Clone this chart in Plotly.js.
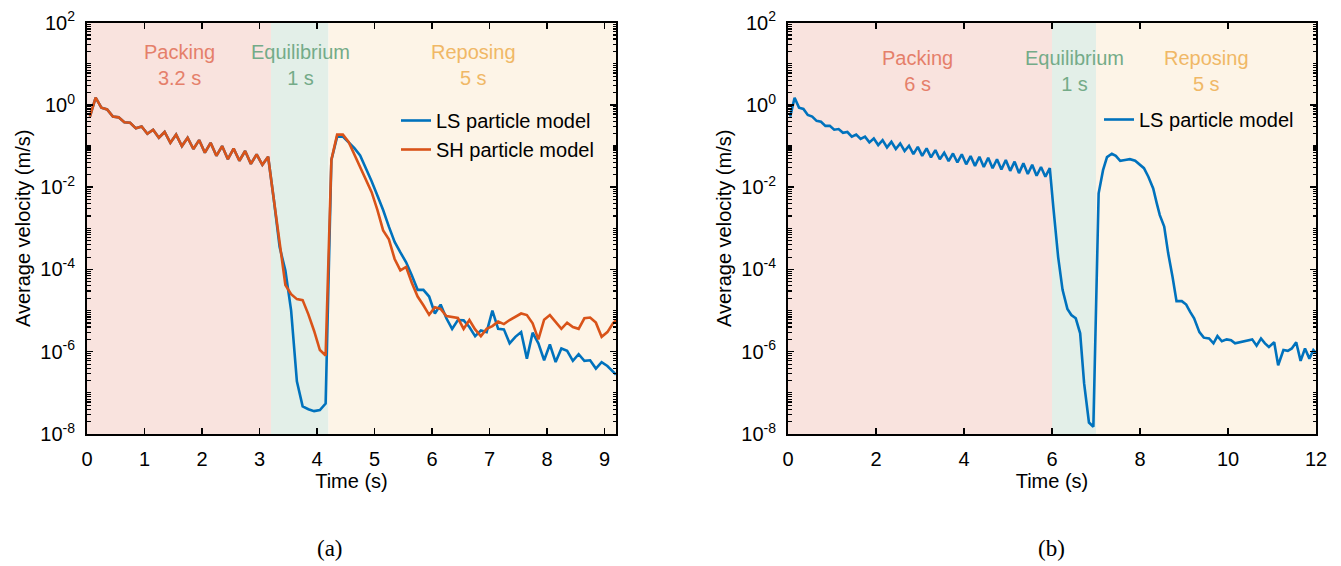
<!DOCTYPE html>
<html>
<head>
<meta charset="utf-8">
<script src="https://cdn.plot.ly/plotly-3.0.1.min.js"></script>
<style>
  html, body { margin: 0; padding: 0; background: #ffffff; }
  #chart { width: 1341px; height: 566px; }
</style>
</head>
<body>
<div id="chart"></div>
<script>
// ---------------- Data: panel (a) ----------------
const timeA = [0.05,0.15,0.25,0.35,0.45,0.55,0.65,0.75,0.85,0.95,1.05,1.15,1.25,1.35,1.45,1.55,1.65,1.75,1.85,1.95,
  2.05,2.15,2.25,2.35,2.45,2.55,2.65,2.75,2.85,2.95,3.05,3.15,3.25,3.35,3.45,3.55,3.65,3.75,3.85,3.95,
  4.05,4.15,4.25,4.35,4.45,4.55,4.65,4.75,4.85,4.95,5.05,5.15,5.25,5.35,5.45,5.55,5.65,5.75,5.85,5.95,
  6.05,6.15,6.25,6.35,6.45,6.55,6.65,6.75,6.85,6.95,7.05,7.15,7.25,7.35,7.45,7.55,7.65,7.75,7.85,7.95,
  8.05,8.15,8.25,8.35,8.45,8.55,8.65,8.75,8.85,8.95,9.05,9.15,9.2];

const lsVelocityA = [0.52,1.5,0.86,0.78,0.52,0.50,0.38,0.37,0.27,0.30,0.20,0.25,0.16,0.22,0.12,0.19,0.10,0.16,0.085,0.14,
  0.069,0.12,0.058,0.10,0.048,0.087,0.044,0.076,0.037,0.063,0.035,0.055,4.9e-3,3.5e-4,9.5e-5,1.0e-5,1.9e-7,4.7e-8,4.0e-8,3.6e-8,
  3.8e-8,5.5e-8,0.046,0.17,0.17,0.126,0.089,0.059,0.030,0.014,6.3e-3,2.8e-3,1.1e-3,4.7e-4,2.6e-4,1.5e-4,7.1e-5,3.2e-5,3.2e-5,2.2e-5,
  8.5e-6,1.4e-5,6.5e-6,3.6e-6,5.9e-6,5.8e-6,4.0e-6,2.4e-6,3.3e-6,3.0e-6,1.0e-5,3.6e-6,3.5e-6,1.6e-6,2.3e-6,3.0e-6,6.8e-7,2.9e-6,1.6e-6,6.2e-7,
  1.5e-6,5.6e-7,1.2e-6,1.05e-6,6.0e-7,8.7e-7,6.0e-7,6.2e-7,3.9e-7,5.6e-7,4.5e-7,3.2e-7,2.8e-7];

const shVelocityA = [0.52,1.5,0.86,0.78,0.52,0.50,0.38,0.37,0.27,0.30,0.20,0.25,0.16,0.22,0.12,0.19,0.10,0.16,0.085,0.14,
  0.069,0.12,0.058,0.10,0.048,0.087,0.044,0.076,0.037,0.063,0.035,0.055,4.9e-3,4.3e-4,4.2e-5,2.5e-5,1.9e-5,1.8e-5,8.1e-6,3.2e-6,
  1.1e-6,8.1e-7,0.046,0.19,0.19,0.126,0.063,0.030,0.015,7.6e-3,2.8e-3,8.9e-4,5.4e-4,1.8e-4,9.5e-5,1.15e-4,4.7e-5,2.2e-5,1.35e-5,7.9e-6,
  1.2e-5,1.1e-5,7.4e-6,6.9e-6,6.6e-6,3.6e-6,5.9e-6,3.5e-6,2.4e-6,3.6e-6,4.2e-6,5.4e-6,4.7e-6,5.9e-6,7.2e-6,8.5e-6,7.8e-6,4.9e-6,2.0e-6,6.0e-6,
  7.8e-6,5.4e-6,3.6e-6,5.1e-6,4.0e-6,3.6e-6,6.5e-6,6.8e-6,5.1e-6,2.3e-6,3.0e-6,5.0e-6,5.9e-6];

// ---------------- Data: panel (b) ----------------
const timeB = [0.05,0.15,0.25,0.35,0.45,0.55,0.65,0.75,0.85,0.95,1.05,1.15,1.25,1.35,1.45,1.55,1.65,1.75,1.85,1.95,
  2.05,2.15,2.25,2.35,2.45,2.55,2.65,2.75,2.85,2.95,3.05,3.15,3.25,3.35,3.45,3.55,3.65,3.75,3.85,3.95,
  4.05,4.15,4.25,4.35,4.45,4.55,4.65,4.75,4.85,4.95,5.05,5.15,5.25,5.35,5.45,5.55,5.65,5.75,5.85,5.95,
  6.03,6.14,6.24,6.35,6.44,6.54,6.64,6.73,6.84,6.94,7.06,7.16,7.25,7.36,7.45,7.55,7.66,7.77,7.89,8.0,
  8.09,8.19,8.30,8.38,8.45,8.55,8.64,8.74,8.83,8.95,9.05,9.14,9.23,9.35,9.45,9.57,9.67,9.76,9.86,9.97,
  10.07,10.16,10.27,10.43,10.55,10.65,10.75,10.84,10.93,11.05,11.14,11.26,11.36,11.45,11.55,11.65,11.75,11.85,11.94,12.0];

const lsVelocityB = [0.52,1.5,0.86,0.80,0.57,0.52,0.41,0.39,0.31,0.31,0.25,0.26,0.21,0.22,0.17,0.19,0.15,0.17,0.123,0.153,
  0.106,0.14,0.093,0.127,0.085,0.116,0.076,0.102,0.064,0.096,0.058,0.088,0.053,0.080,0.048,0.069,0.043,0.066,0.040,0.063,
  0.036,0.057,0.033,0.055,0.031,0.052,0.029,0.048,0.027,0.046,0.025,0.042,0.022,0.038,0.021,0.035,0.019,0.031,0.018,0.029,
  3.3e-3,2.0e-4,3.2e-5,1.1e-5,7.8e-6,6.5e-6,2.8e-6,1.7e-7,1.9e-8,1.5e-8,7.1e-3,0.026,0.054,0.065,0.058,0.044,0.046,0.048,0.044,0.035,
  0.029,0.018,9.3e-3,4.1e-3,2.1e-3,1.1e-3,2.5e-4,6.6e-5,1.7e-5,1.7e-5,1.4e-5,9.3e-6,6.5e-6,3.0e-6,2.2e-6,2.1e-6,1.6e-6,2.4e-6,1.8e-6,2.0e-6,
  1.9e-6,1.6e-6,1.7e-6,1.8e-6,2.0e-6,1.4e-6,2.1e-6,1.6e-6,1.3e-6,1.7e-6,4.7e-7,1.1e-6,1.05e-6,1.2e-6,1.7e-6,6.0e-7,1.2e-6,6.8e-7,1.1e-6,9.3e-7];

// ---------------- Phases ----------------
const phaseNames = ['Packing', 'Equilibrium', 'Reposing'];
const phaseDurA = ['3.2 s', '1 s', '5 s'];
const phaseDurB = ['6 s', '1 s', '5 s'];
const phaseEdgesA = [0, 3.2, 4.2, 9.2];
const phaseEdgesB = [0, 6, 7, 12];
const phaseLabelXA = [1.6, 3.72, 6.72];
const phaseLabelXB = [2.95, 6.5, 9.5];

const yTickVals = [1e-8, 1e-6, 1e-4, 1e-2, 1e0, 1e2];
const yTickText = ['10<sup>-8</sup>', '10<sup>-6</sup>', '10<sup>-4</sup>', '10<sup>-2</sup>', '10<sup>0</sup>', '10<sup>2</sup>'];
const yDecades = [-8, -7, -6, -5, -4, -3, -2, -1, 0, 1];
const yMinorMultipliers = [1, 2, 3, 4, 5, 6, 7, 8, 9];
const xTickValsA = [0,1,2,3,4,5,6,7,8,9];
const xTickValsB = [0,2,4,6,8,10,12];

// minor tick positions on the log axes (1..9 x 10^n)
const yMinorVals = [];
yDecades.forEach(d => yMinorMultipliers.forEach(m => {
  const v = m * Math.pow(10, d);
  if (!yTickVals.some(t => Math.abs(t - v) / t < 1e-9)) yMinorVals.push(v);
}));

// ---------------- Styles ----------------
const bgColors = ['#F9E3DE', '#E3EFE8', '#FDF4E7'];
const textColors = ['#E57F6A', '#74AB88', '#F0B866'];
const blue = '#0072BD', orange = '#D95319';
const FONT = 'Liberation Sans, Arial, Helvetica, sans-serif';

const traces = [
  {x: timeA, y: lsVelocityA, xaxis: 'x', yaxis: 'y', mode: 'lines', name: 'LS particle model',
   line: {color: blue, width: 2.6}, legend: 'legend'},
  {x: timeA, y: shVelocityA, xaxis: 'x', yaxis: 'y', mode: 'lines', name: 'SH particle model',
   line: {color: orange, width: 2.6}, legend: 'legend'},
  {x: timeB, y: lsVelocityB, xaxis: 'x2', yaxis: 'y2', mode: 'lines', name: 'LS particle model',
   line: {color: blue, width: 2.6}, legend: 'legend2'}
];

const shapes = [];
const annotations = [];
function addPhases(edges, labelX, durs, xref, yref, yPaper) {
  for (let i = 0; i < 3; i++) {
    shapes.push({type: 'rect', xref: xref, yref: yref + ' domain', x0: edges[i], x1: edges[i+1], y0: 0, y1: 1,
      fillcolor: bgColors[i], line: {width: 0}, layer: 'below'});
    annotations.push({xref: xref, yref: 'paper', x: labelX[i], y: yPaper, text: phaseNames[i] + '<br>' + durs[i],
      showarrow: false, font: {family: FONT, size: 20, color: textColors[i]}, align: 'center',
      xanchor: 'center', yanchor: 'middle'});
  }
}
addPhases(phaseEdgesA, phaseLabelXA, phaseDurA, 'x', 'y', 1 - 65/566);
addPhases(phaseEdgesB, phaseLabelXB, phaseDurB, 'x2', 'y2', 1 - 71/566);

annotations.push({xref: 'paper', yref: 'paper', x: 330/1341, y: 1 - 548/566, xanchor: 'center', yanchor: 'middle',
  text: '(a)', showarrow: false, font: {family: 'Liberation Serif, Times New Roman, serif', size: 23, color: '#000'}});
annotations.push({xref: 'paper', yref: 'paper', x: 1051/1341, y: 1 - 548/566, xanchor: 'center', yanchor: 'middle',
  text: '(b)', showarrow: false, font: {family: 'Liberation Serif, Times New Roman, serif', size: 23, color: '#000'}});

function yAxis(anchor) {
  return {
    type: 'log', range: [-8, 2], domain: [1 - 434/566, 1 - 22.7/566], anchor: anchor,
    tickmode: 'array', tickvals: yTickVals, ticktext: yTickText,
    ticks: 'inside', ticklen: 6, tickwidth: 1.5, tickcolor: '#000',
    minor: {tickmode: 'array', tickvals: yMinorVals, ticks: 'inside', ticklen: 3.5, tickwidth: 1.2,
      tickcolor: '#000', showgrid: false},
    showline: true, linecolor: '#000', linewidth: 2, mirror: 'ticks',
    showgrid: false, zeroline: false, ticklabelstandoff: 6,
    tickfont: {family: FONT, size: 20, color: '#000'},
    title: {text: 'Average velocity (m/s)', font: {family: FONT, size: 20, color: '#000'}, standoff: 4}
  };
}
function xAxis(anchor, domain, range, tickvals) {
  return {
    domain: domain, range: range, anchor: anchor,
    tickmode: 'array', tickvals: tickvals,
    ticks: 'inside', ticklen: 6, tickwidth: 1.5, tickcolor: '#000',
    showline: true, linecolor: '#000', linewidth: 2, mirror: 'ticks',
    showgrid: false, zeroline: false, ticklabelstandoff: 6,
    tickfont: {family: FONT, size: 20, color: '#000'},
    title: {text: 'Time (s)', font: {family: FONT, size: 20, color: '#000'}, standoff: 2}
  };
}

const layout = {
  width: 1341, height: 566,
  margin: {l: 0, r: 0, t: 0, b: 0},
  paper_bgcolor: '#ffffff', plot_bgcolor: 'rgba(0,0,0,0)',
  font: {family: FONT, size: 20, color: '#000'},
  xaxis: xAxis('y', [87/1341, 616/1341], [0, 9.2], xTickValsA),
  yaxis: yAxis('x'),
  xaxis2: xAxis('y2', [788/1341, 1316/1341], [0, 12], xTickValsB),
  yaxis2: yAxis('x2'),
  showlegend: true,
  legend: {x: 396/1341, y: 1 - 101/566, xanchor: 'left', yanchor: 'top', bgcolor: 'rgba(0,0,0,0)',
    borderwidth: 0, font: {family: FONT, size: 20, color: '#000'}, tracegroupgap: 0},
  legend2: {x: 1099/1341, y: 1 - 100/566, xanchor: 'left', yanchor: 'top', bgcolor: 'rgba(0,0,0,0)',
    borderwidth: 0, font: {family: FONT, size: 20, color: '#000'}},
  shapes: shapes,
  annotations: annotations
};

Plotly.newPlot('chart', traces, layout, {displayModeBar: false, staticPlot: true});
</script>
</body>
</html>
